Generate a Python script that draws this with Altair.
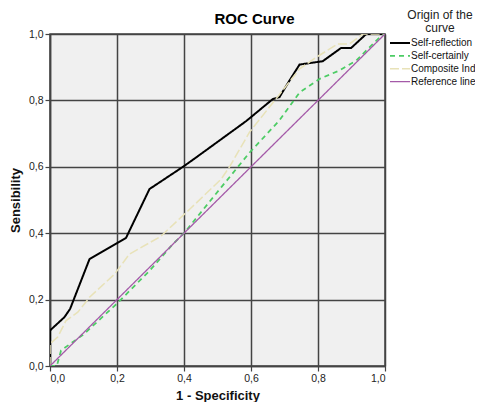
import altair as alt
import pandas as pd

series_names = ["Self-reflection", "Self-certainly", "Composite Index", "Reference line"]

sr_fpr = [0, 0, 0.043, 0.06, 0.118, 0.227, 0.297, 0.397, 0.436, 0.586, 0.665, 0.685, 0.715, 0.745, 0.814, 0.869, 0.899, 0.944, 1.0]
sr_tpr = [0, 0.107, 0.147, 0.172, 0.322, 0.386, 0.533, 0.6, 0.628, 0.738, 0.804, 0.81, 0.86, 0.908, 0.918, 0.958, 0.958, 1.0, 1.0]

sc_fpr = [0, 0.02, 0.023, 0.033, 0.1, 0.202, 0.3, 0.362, 0.4, 0.511, 0.596, 0.685, 0.745, 0.805, 0.864, 0.914, 0.984, 1.0]
sc_tpr = [0, 0, 0.01, 0.047, 0.095, 0.19, 0.29, 0.362, 0.4, 0.538, 0.643, 0.74, 0.824, 0.865, 0.89, 0.92, 0.99, 1.0]

ci_fpr = [0, 0, 0.023, 0.048, 0.083, 0.118, 0.193, 0.237, 0.33, 0.42, 0.511, 0.536, 0.596, 0.685, 0.745, 0.795, 0.859, 0.894, 0.934, 1.0]
ci_tpr = [0, 0.067, 0.087, 0.137, 0.162, 0.207, 0.277, 0.337, 0.39, 0.475, 0.563, 0.6, 0.705, 0.818, 0.895, 0.93, 0.97, 0.97, 1.0, 1.0]

ref_fpr = [0, 1]
ref_tpr = [0, 1]

rows = []
for name, xs, ys in [
    (series_names[0], sr_fpr, sr_tpr),
    (series_names[1], sc_fpr, sc_tpr),
    (series_names[2], ci_fpr, ci_tpr),
    (series_names[3], ref_fpr, ref_tpr),
]:
    for i, (a, b) in enumerate(zip(xs, ys)):
        rows.append({"series": name, "fpr": a, "tpr": b, "idx": i})
df = pd.DataFrame(rows)

colors = ["#000000", "#4ccc64", "#e8e2b8", "#a45aa8"]
dashes = [[1, 0], [5, 4], [9, 3], [1, 0]]
widths = [2, 1.3, 1.3, 1.2]

lbl = "replace(format(datum.value, '.1f'), '.', ',')"
legend_title = ["Origin of the", "curve"]

chart = alt.Chart(df).mark_line(clip=True).encode(
    x=alt.X("fpr:Q", title="1 - Specificity",
            scale=alt.Scale(domain=[0, 1], nice=False, zero=False),
            axis=alt.Axis(values=[0, 0.2, 0.4, 0.6, 0.8, 1.0], labelExpr=lbl, titlePadding=6)),
    y=alt.Y("tpr:Q", title="Sensibility",
            scale=alt.Scale(domain=[0, 1], nice=False, zero=False),
            axis=alt.Axis(values=[0, 0.2, 0.4, 0.6, 0.8, 1.0], labelExpr=lbl, titlePadding=6)),
    order="idx:Q",
    color=alt.Color("series:N", scale=alt.Scale(domain=series_names, range=colors),
                    title=legend_title),
    strokeDash=alt.StrokeDash("series:N", scale=alt.Scale(domain=series_names, range=dashes),
                              title=legend_title),
    strokeWidth=alt.StrokeWidth("series:N", scale=alt.Scale(domain=series_names, range=widths),
                                title=legend_title),
).properties(
    width=335, height=332,
    title=alt.TitleParams("ROC Curve", fontSize=15, fontWeight="bold", font="Liberation Sans",
                          anchor="middle", frame="group", offset=-17, dx=37, color="#000"),
    autosize=alt.AutoSizeParams(type="none"),
    padding={"left": 42, "top": 26, "right": 90, "bottom": 36},
).configure_view(
    fill="#f0f0f0", stroke="#444", strokeWidth=1.5
).configure_axis(
    grid=True, gridColor="#444", gridWidth=1.5, gridOpacity=1,
    domainColor="#444", domainWidth=1.5,
    tickColor="#444", tickSize=5, tickWidth=1.2,
    labelFont="Liberation Sans", labelFontSize=10.5, labelColor="#222",
    titleFont="Liberation Sans", titleFontSize=13, titleFontWeight="bold", titleColor="#111",
).configure_legend(
    orient="none", legendX=344, legendY=-24,
    symbolType="M-2,0H2", symbolSize=100, symbolStrokeWidth=2,
    titleFont="Liberation Sans", titleFontSize=12, titleFontWeight="normal", titleColor="#222",
    titleAlign="center", titleAnchor="middle", titleLineHeight=12.5,
    labelFont="Liberation Sans", labelFontSize=10, labelColor="#111",
    labelLimit=200, rowPadding=1.9, labelOffset=5, titlePadding=2.5,
)

chart.save("out.html", embed_options={"renderer": "svg", "actions": False})
